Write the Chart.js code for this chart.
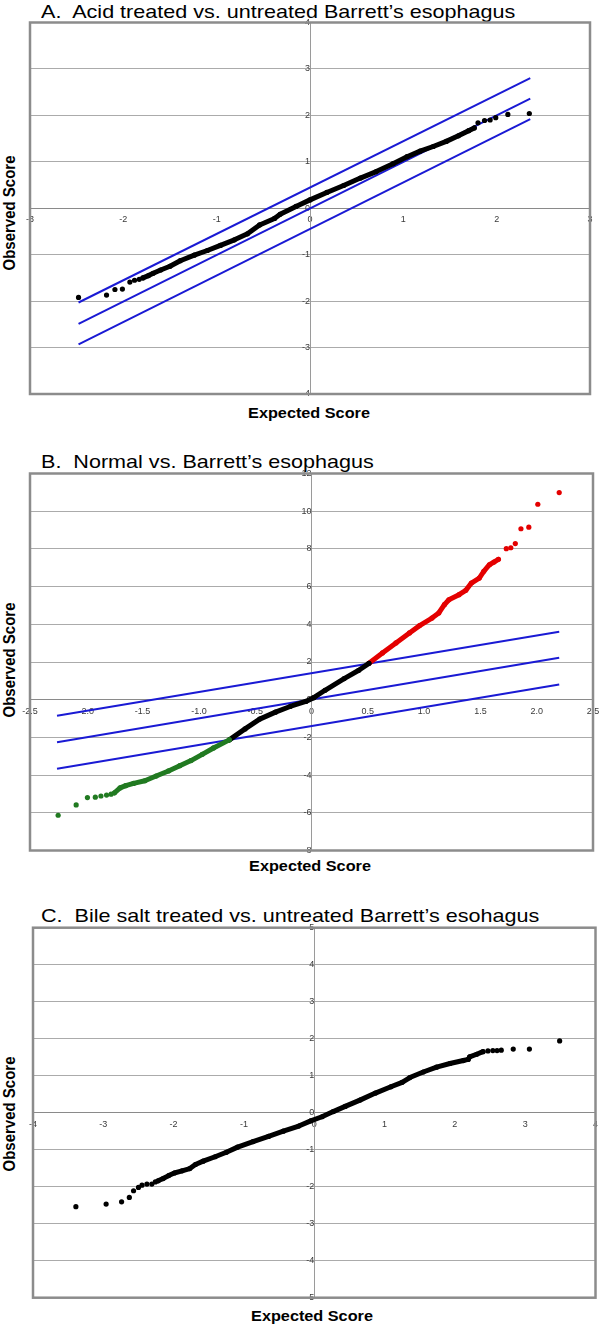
<!DOCTYPE html>
<html>
<head>
<meta charset="utf-8">
<script src="https://cdn.jsdelivr.net/npm/chart.js@4.4.1/dist/chart.umd.min.js"></script>
<style>
  body { margin: 0; width: 600px; height: 1326px; position: relative; overflow: hidden; background: #fff;
         font-family: "Liberation Sans", Arial, sans-serif; color: #000; }
  canvas { position: absolute; left: 0; }
  .title { position: absolute; left: 41px; font-size: 19px; line-height: 19px; white-space: nowrap;
           transform-origin: 0 0; transform: scaleX(1.135); }
  .xname { position: absolute; width: 0; height: 0; transform-origin: 0 0; transform: scaleX(1.16); }
  .xname span { position: absolute; left: 0; top: 0; transform: translateX(-50%); font-weight: bold;
                font-size: 14px; line-height: 14px; white-space: nowrap; }
  .yname { position: absolute; left: 9px; width: 0; height: 0; transform-origin: 0 0;
           transform: scaleX(1.15) rotate(-90deg); }
  .yname span { position: absolute; left: 0; top: 0; transform: translate(-50%, -50%); font-weight: bold;
                font-size: 15px; line-height: 15px; white-space: nowrap; }
</style>
</head>
<body>

<div class="title" style="top:2px">A.&nbsp; Acid treated vs. untreated Barrett’s esophagus</div>
<div class="yname" style="top:213px"><span>Observed Score</span></div>
<div class="xname" style="left:309px; top:406px"><span>Expected Score</span></div>
<canvas id="chartA" width="600" height="440" style="top:0px"></canvas>

<div class="title" style="top:452px">B.&nbsp; Normal vs. Barrett’s esophagus</div>
<div class="yname" style="top:660px"><span>Observed Score</span></div>
<div class="xname" style="left:310px; top:859px"><span>Expected Score</span></div>
<canvas id="chartB" width="600" height="445" style="top:440px"></canvas>

<div class="title" style="top:906px">C.&nbsp; Bile salt treated vs. untreated Barrett’s esohagus</div>
<div class="yname" style="top:1114px"><span>Observed Score</span></div>
<div class="xname" style="left:312px; top:1309px"><span>Expected Score</span></div>
<canvas id="chartC" width="600" height="441" style="top:885px"></canvas>

<script>
// ---- A. Acid treated vs. untreated ----
const aXTicks = [-3, -2, -1, 0, 1, 2, 3];
const aYTicks = [-4, -3, -2, -1, 0, 1, 2, 3, 4];
const aLowX = [-2.48, -2.18, -2.09, -2.01, -1.93, -1.88, -1.83];
const aLowY = [-1.92, -1.87, -1.75, -1.74, -1.59, -1.55, -1.53];
const aMainX = [-1.79, -1.73, -1.68, -1.60, -1.50, -1.39, -1.24, -1.10, -0.96, -0.81, -0.67, -0.54, -0.38, -0.32,
                -0.15, 0, 0.18, 0.36, 0.54, 0.71, 0.89, 1.04, 1.18, 1.32, 1.46, 1.59, 1.70, 1.76];
const aMainY = [-1.50, -1.45, -1.40, -1.33, -1.25, -1.13, -1.01, -0.91, -0.80, -0.68, -0.55, -0.36, -0.22, -0.13,
                0.04, 0.18, 0.34, 0.49, 0.65, 0.79, 0.96, 1.11, 1.23, 1.33, 1.44, 1.56, 1.67, 1.73];
const aHighX = [1.80, 1.87, 1.93, 1.99, 2.12, 2.35];
const aHighY = [1.84, 1.89, 1.90, 1.95, 2.02, 2.04];
const aLineX = [-2.48, 2.36];
const aUpperY = [-2.03, 2.80];
const aMidY = [-2.49, 2.36];
const aLowerY = [-2.93, 1.92];

// ---- B. Normal vs. Barrett's ----
const bXTicks = [-2.5, -2, -1.5, -1, -0.5, 0, 0.5, 1, 1.5, 2, 2.5];
const bYTicks = [-8, -6, -4, -2, 0, 2, 4, 6, 8, 10, 12];
const bGreenTailX = [-2.25, -2.09, -1.99, -1.92, -1.87, -1.82, -1.78];
const bGreenTailY = [-6.13, -5.58, -5.19, -5.17, -5.11, -5.06, -5.01];
const bGreenX = [-1.75, -1.70, -1.65, -1.58, -1.48, -1.38, -1.27, -1.17, -1.07, -0.97, -0.87, -0.73];
const bGreenY = [-4.94, -4.68, -4.56, -4.44, -4.30, -4.05, -3.78, -3.50, -3.23, -2.90, -2.56, -2.13];
const bBlackX = [-0.73, -0.59, -0.46, -0.32, -0.19, -0.05, 0.02, 0.12, 0.29, 0.42, 0.51];
const bBlackY = [-2.13, -1.55, -1.03, -0.66, -0.36, -0.09, 0.11, 0.50, 1.12, 1.56, 1.93];
const bRedX = [0.51, 0.63, 0.75, 0.87, 0.96, 1.07, 1.13, 1.18, 1.22, 1.31, 1.37, 1.42, 1.49, 1.53, 1.58, 1.62, 1.66];
const bRedY = [1.93, 2.48, 3.01, 3.54, 3.93, 4.33, 4.60, 5.04, 5.30, 5.57, 5.80, 6.19, 6.45, 6.81, 7.16, 7.30, 7.45];
const bRedTailX = [1.73, 1.77, 1.81, 1.86, 1.93, 2.01, 2.20];
const bRedTailY = [8.01, 8.06, 8.28, 9.07, 9.15, 10.37, 10.99];
const bLineX = [-2.26, 2.20];
const bUpperY = [-0.85, 3.61];
const bMidY = [-2.26, 2.22];
const bLowerY = [-3.66, 0.81];

// ---- C. Bile salt treated vs. untreated ----
const cXTicks = [-4, -3, -2, -1, 0, 1, 2, 3, 4];
const cYTicks = [-5, -4, -3, -2, -1, 0, 1, 2, 3, 4, 5];
const cLowX = [-3.39, -2.96, -2.74, -2.63, -2.57, -2.50, -2.45, -2.38, -2.31, -2.26];
const cLowY = [-2.54, -2.47, -2.41, -2.29, -2.11, -2.02, -1.96, -1.93, -1.93, -1.87];
const cMainX = [-2.22, -2.15, -2.07, -1.99, -1.88, -1.77, -1.69, -1.58, -1.41, -1.25, -1.09, -0.87, -0.65, -0.44,
                -0.22, -0.05, 0.11, 0.27, 0.44, 0.65, 0.87, 1.09, 1.25, 1.36, 1.55, 1.74, 1.93, 2.12, 2.19, 2.21,
                2.31, 2.40];
const cMainY = [-1.84, -1.78, -1.70, -1.63, -1.57, -1.51, -1.40, -1.31, -1.19, -1.07, -0.93, -0.78, -0.64, -0.50,
                -0.36, -0.22, -0.11, 0.03, 0.17, 0.34, 0.53, 0.70, 0.82, 0.95, 1.10, 1.23, 1.33, 1.41, 1.44, 1.51,
                1.58, 1.65];
const cHighX = [2.47, 2.54, 2.60, 2.66, 2.83, 3.06, 3.49];
const cHighY = [1.67, 1.68, 1.68, 1.69, 1.72, 1.72, 1.94];

const BLUE = '#1a1ad4';
const GREEN = '#217a21';
const RED = '#e40000';

const pts = (xs, ys) => xs.map((x, i) => ({x: x, y: ys[i]}));

function dots(xs, ys, color) {
    return {data: pts(xs, ys), showLine: false, pointRadius: 2.6,
            pointBackgroundColor: color, pointBorderWidth: 0};
}
// dense stretch of points: the dots sit so close they merge into a thick band
function band(xs, ys, color) {
    return {data: pts(xs, ys), showLine: true, borderColor: color, borderWidth: 5,
            borderCapStyle: 'round', borderJoinStyle: 'round',
            pointRadius: 2.6, pointBackgroundColor: color, pointBorderWidth: 0};
}
function blueLine(xs, ys) {
    return {data: pts(xs, ys), showLine: true, borderColor: BLUE, borderWidth: 2, pointRadius: 0};
}

// grey box round the plot area
const frame = {
    id: 'frame',
    beforeDatasetsDraw(chart) {
        const {ctx, chartArea: a} = chart;
        ctx.save();
        ctx.strokeStyle = '#8c8c8c';
        ctx.lineWidth = 2.5;
        ctx.strokeRect(a.left, a.top, a.right - a.left, a.bottom - a.top);
        ctx.restore();
    }
};

const tickFont = {family: 'Liberation Sans', size: 9};

function qqChart(id, pad, xTicks, yTicks, datasets) {
    return new Chart(id, {
        type: 'scatter',
        data: {datasets: datasets},
        options: {
            responsive: false,
            animation: false,
            layout: {padding: pad},
            plugins: {legend: {display: false}, tooltip: {enabled: false}},
            scales: {
                x: {
                    type: 'linear',
                    min: xTicks[0],
                    max: xTicks[xTicks.length - 1],
                    position: {y: 0},
                    afterBuildTicks: s => { s.ticks = xTicks.map(v => ({value: v})); },
                    afterFit: s => { s.paddingLeft = 0; s.paddingRight = 0; },
                    grid: {display: false, drawTicks: false},
                    border: {display: true, color: '#8a8a8a', width: 1},
                    ticks: {font: tickFont, color: '#3a3a3a', padding: 6, maxRotation: 0, autoSkip: false}
                },
                y: {
                    type: 'linear',
                    min: yTicks[0],
                    max: yTicks[yTicks.length - 1],
                    position: {x: 0},
                    afterBuildTicks: s => { s.ticks = yTicks.map(v => ({value: v})); },
                    afterFit: s => { s.paddingTop = 0; s.paddingBottom = 0; },
                    grid: {color: '#ababab', lineWidth: 1, drawTicks: false},
                    border: {display: true, color: '#9a9a9a', width: 1},
                    ticks: {font: tickFont, color: '#3a3a3a', padding: 5, autoSkip: false}
                }
            }
        },
        plugins: [frame]
    });
}

qqChart('chartA', {left: 30, right: 10, top: 22.5, bottom: 46}, aXTicks, aYTicks, [
    dots(aLowX, aLowY, '#000'),
    band(aMainX, aMainY, '#000'),
    dots(aHighX, aHighY, '#000'),
    blueLine(aLineX, aUpperY),
    blueLine(aLineX, aMidY),
    blueLine(aLineX, aLowerY)
]);

qqChart('chartB', {left: 30, right: 7, top: 33.5, bottom: 34.5}, bXTicks, bYTicks, [
    dots(bGreenTailX, bGreenTailY, GREEN),
    band(bGreenX, bGreenY, GREEN),
    band(bBlackX, bBlackY, '#000'),
    band(bRedX, bRedY, RED),
    dots(bRedTailX, bRedTailY, RED),
    blueLine(bLineX, bUpperY),
    blueLine(bLineX, bMidY),
    blueLine(bLineX, bLowerY)
]);

qqChart('chartC', {left: 33, right: 4.5, top: 42.7, bottom: 28.3}, cXTicks, cYTicks, [
    dots(cLowX, cLowY, '#000'),
    band(cMainX, cMainY, '#000'),
    dots(cHighX, cHighY, '#000')
]);
</script>
</body>
</html>
